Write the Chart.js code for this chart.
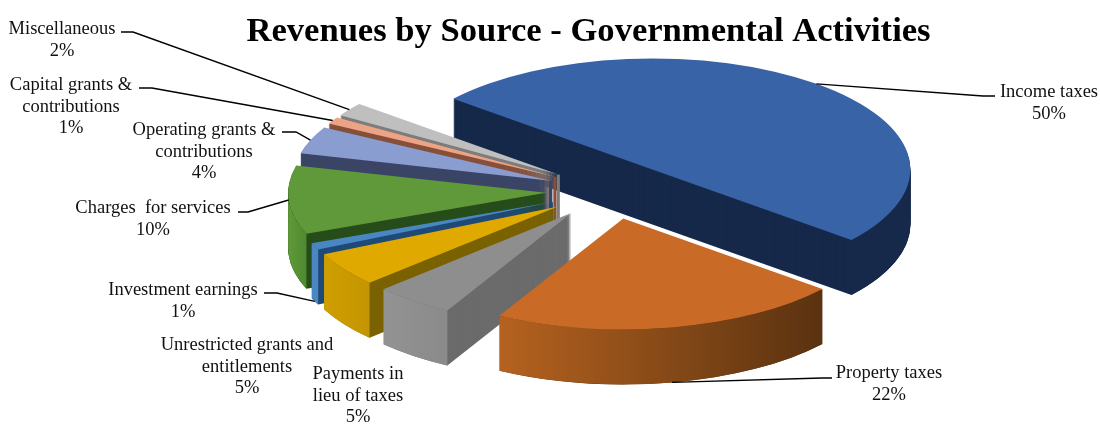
<!DOCTYPE html>
<html>
<head>
<meta charset="utf-8">
<style>html,body{margin:0;padding:0;background:#fff}canvas{display:block}</style>
<script src="https://cdn.jsdelivr.net/npm/chart.js@4/dist/chart.umd.js"></script>
</head>
<body>
<canvas id="chart" width="1100" height="428"></canvas>
<script>
// Revenue shares, clockwise from the start angle
const categories = ['Income taxes', 'Property taxes', 'Payments in lieu of taxes', 'Unrestricted grants and entitlements',
  'Investment earnings', 'Charges  for services', 'Operating grants & contributions', 'Capital grants & contributions', 'Miscellaneous'];
const shares = [50, 22, 5, 5, 1, 10, 4, 1, 2];
const labelLines = [['Income taxes'], ['Property taxes'], ['Payments in', 'lieu of taxes'], ['Unrestricted grants and', 'entitlements'],
  ['Investment earnings'], ['Charges  for services'], ['Operating grants &', 'contributions'], ['Capital grants &', 'contributions'], ['Miscellaneous']];

// Face, radial-wall and outer-wall colours per slice (outer wall: left, right)
const topColors = ['#3863a7', '#c96b27', '#8e8e8e', '#e0a900', '#4a86c1', '#5f9939', '#8a9dd1', '#eda385', '#bfbfbf'];
const sideColors = ['#16294a', '#5a3210', '#6b6b6b', '#7b6200', '#1f4a78', '#264d1b', '#3b4566', '#86503a', '#7d7d7d'];
const wallColors = [['#16294a', '#16294a'], ['#b5621f', '#5a3210'], ['#939393', '#8a8a8a'], ['#cf9e00', '#c49500'],
  ['#4a86c1', '#4a86c1'], ['#5f9939', '#4f8a30'], ['#3b4566', '#3b4566'], ['#86503a', '#86503a'], ['#7d7d7d', '#7d7d7d']];

// Label centres and leader-line elbows, with the wall level (0 top, 1 bottom) where each leader lands
const labelCenters = [[1049, 92], [889, 373], [358, 374], [247, 345], [183, 290], [153, 208], [204, 130], [71, 85], [62, 29]];
const leaderElbows = [[[995, 96], [983, 96]], [[832, 378], [822, 378]], [], [], [[264, 293], [277, 293]],
  [[238, 212], [248, 212]], [[282, 132], [296, 132]], [[139, 88], [152, 88]], [[121, 32], [133, 32]]];
const leaderLevels = [0, 1, 0, 0, 1, 0, 0, 0, 0];

const HUB_X = 611, HUB_Y = 191;   // screen position of the pie centre
const SQUASH = 0.43;              // vertical foreshortening of the tilted disc
const DEPTH = 55;                 // wall height on screen
const EXPLODE = 65;               // distance each slice is pulled from the centre
const RADIUS = 258;

function recolor(arc, color, draw) {
  const saved = arc.options;
  arc.options = Object.assign({}, saved, { backgroundColor: color, borderColor: color });
  draw();
  arc.options = saved;
}

// Moves the drawing space so one slice sits on the tilted, exploded disc
function placeSlice(ctx, arc, drop) {
  const mid = (arc.startAngle + arc.endAngle) / 2;
  ctx.translate(HUB_X, HUB_Y + drop);
  ctx.scale(1, SQUASH);
  ctx.translate(Math.cos(mid) * EXPLODE - arc.x, Math.sin(mid) * EXPLODE - arc.y);
}

function outerPoint(arc, level) {
  const mid = (arc.startAngle + arc.endAngle) / 2;
  return [HUB_X + Math.cos(mid) * (EXPLODE + arc.outerRadius),
          HUB_Y + Math.sin(mid) * (EXPLODE + arc.outerRadius) * SQUASH + level * DEPTH];
}

function drawWalls(ctx, arc, i) {
  // Swept slice body in the radial-wall colour
  recolor(arc, sideColors[i], () => {
    for (let d = DEPTH; d > 0; d--) {
      ctx.save();
      placeSlice(ctx, arc, d);
      arc.draw(ctx);
      ctx.restore();
    }
  });
  // Solid vertical edge where a narrow slice comes to its tip
  if (arc.endAngle - arc.startAngle < 0.5 && shares[i] < 5) {
    const mid = (arc.startAngle + arc.endAngle) / 2;
    const tipX = HUB_X + Math.cos(mid) * EXPLODE;
    const tipY = HUB_Y + Math.sin(mid) * EXPLODE * SQUASH;
    ctx.save();
    ctx.strokeStyle = sideColors[i];
    ctx.lineWidth = 3;
    ctx.beginPath();
    ctx.moveTo(tipX, tipY);
    ctx.lineTo(tipX, tipY + DEPTH);
    ctx.stroke();
    ctx.restore();
  }
  // Outer curved wall: only the part of the rim facing the viewer
  const twoPi = Math.PI * 2;
  let a0 = arc.startAngle, a1 = arc.endAngle;
  const turns = Math.floor(a0 / twoPi);
  a0 -= turns * twoPi; a1 -= turns * twoPi;
  const spans = [[Math.max(a0, 0), Math.min(a1, Math.PI)], [Math.max(a0, twoPi), Math.min(a1, twoPi + Math.PI)]];
  spans.forEach(([s, e]) => {
    if (e <= s) return;
    const r = arc.outerRadius;
    const xs = Math.cos(s) * r + arc.x, xe = Math.cos(e) * r + arc.x;
    ctx.save();
    placeSlice(ctx, arc, 0);
    const g = ctx.createLinearGradient(Math.min(xs, xe), 0, Math.max(xs, xe), 0);
    g.addColorStop(0, wallColors[i][0]);
    g.addColorStop(1, wallColors[i][1]);
    ctx.fillStyle = g;
    ctx.beginPath();
    ctx.arc(arc.x, arc.y, r, s, e);
    ctx.arc(arc.x, arc.y + DEPTH / SQUASH, r, e, s, true);
    ctx.closePath();
    ctx.fill();
    ctx.restore();
  });
}

const tiltedPie = {
  id: 'tiltedPie',
  beforeDatasetDraw(chart) {
    const ctx = chart.ctx;
    const arcs = chart.getDatasetMeta(0).data;
    // Paint from the back of the disc to the front
    const order = arcs.map((a, i) => i).sort((p, q) =>
      Math.sin((arcs[p].startAngle + arcs[p].endAngle) / 2) - Math.sin((arcs[q].startAngle + arcs[q].endAngle) / 2));
    order.forEach(i => {
      const arc = arcs[i];
      drawWalls(ctx, arc, i);
      ctx.save();
      placeSlice(ctx, arc, 0);
      arc.draw(ctx);
      ctx.restore();
    });
    return false;
  },
  afterDraw(chart) {
    const ctx = chart.ctx;
    const arcs = chart.getDatasetMeta(0).data;
    ctx.save();
    ctx.strokeStyle = '#000';
    ctx.lineWidth = 1.4;
    arcs.forEach((arc, i) => {
      if (!leaderElbows[i].length) return;
      const end = outerPoint(arc, leaderLevels[i]);
      ctx.beginPath();
      ctx.moveTo(leaderElbows[i][0][0], leaderElbows[i][0][1]);
      ctx.lineTo(leaderElbows[i][1][0], leaderElbows[i][1][1]);
      ctx.lineTo(end[0], end[1]);
      ctx.stroke();
    });
    ctx.fillStyle = '#111';
    ctx.font = '18.5px "Liberation Serif"';
    ctx.textAlign = 'center';
    ctx.textBaseline = 'middle';
    categories.forEach((c, i) => {
      const lines = labelLines[i].concat(shares[i] + '%');
      lines.forEach((t, k) => ctx.fillText(t, labelCenters[i][0], labelCenters[i][1] + k * 21.8));
    });
    ctx.restore();
  }
};

new Chart(document.getElementById('chart'), {
  type: 'pie',
  data: {
    labels: categories,
    datasets: [{ data: shares, backgroundColor: topColors, borderWidth: 0, offset: 0 }]
  },
  options: {
    responsive: false,
    animation: false,
    rotation: 309.5,
    radius: RADIUS,
    layout: { padding: { left: 77 } },
    plugins: {
      legend: { display: false },
      tooltip: { enabled: false },
      title: {
        display: true,
        text: 'Revenues by Source - Governmental Activities',
        color: '#000',
        font: { family: '"Liberation Serif"', size: 34.6, weight: 'bold' },
        padding: { top: 11, bottom: 0 }
      }
    }
  },
  plugins: [tiltedPie]
});
</script>
</body>
</html>
